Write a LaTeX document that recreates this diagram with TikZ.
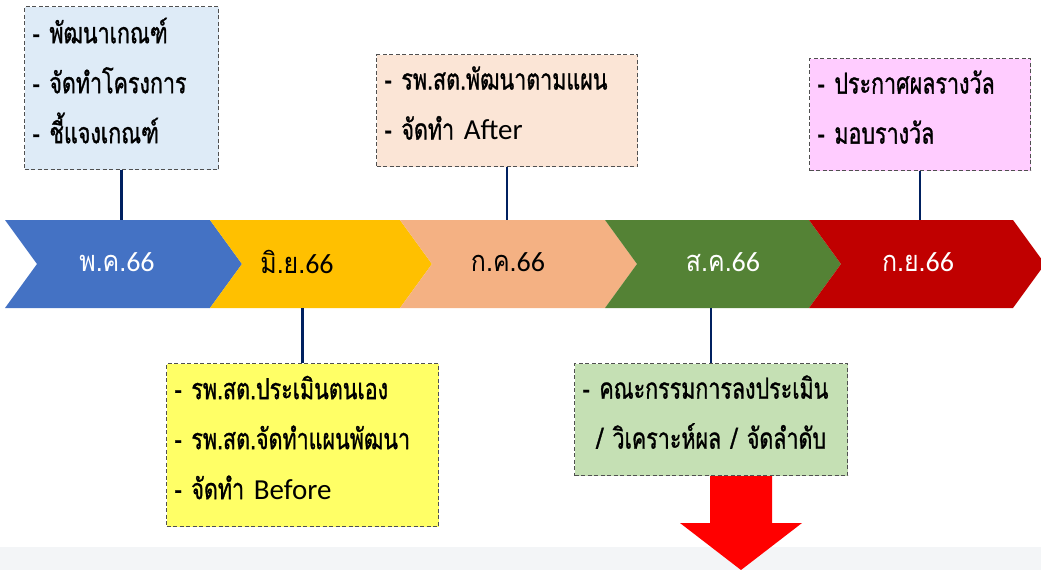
\documentclass[tikz,border=0pt]{standalone}
\usepackage{fontspec}
\newfontfamily\thai[Script=Thai, FakeStretch=0.74, FakeBold=1]{Loma}
\newfontfamily\thaim[Script=Thai, FakeStretch=0.86]{Loma}
\newfontfamily\lat{Carlito}
\definecolor{mblue}{HTML}{4472C4}
\definecolor{myellow}{HTML}{FFC000}
\definecolor{mpeach}{HTML}{F4B183}
\definecolor{mgreen}{HTML}{548235}
\definecolor{mred}{HTML}{C00000}
\definecolor{nblue}{HTML}{DEEBF7}
\definecolor{npeach}{HTML}{FBE5D6}
\definecolor{npink}{HTML}{FFCCFF}
\definecolor{nyellow}{HTML}{FFFF66}
\definecolor{ngreen}{HTML}{C5E0B4}
\definecolor{notegray}{HTML}{505050}
\definecolor{linkblue}{HTML}{002060}
\definecolor{bandgray}{HTML}{F3F5F7}
\tikzset{
	note/.style={draw=notegray, dash pattern=on 4pt off 2.5pt, line width=1.2pt, anchor=north west, align=left,
		inner xsep=8pt, inner ysep=0pt, font=\thai\fontsize{29}{50}\selectfont, text=black,
		execute at end node={\par\vspace*{15pt}}},
	link/.style={draw=linkblue, line width=2.5pt},
	month/.style={font=\thaim\fontsize{29}{36}\selectfont}
}
\begin{document}
\begin{tikzpicture}[x=1pt,y=-1pt]
\useasboundingbox (0,0) rectangle (1041,570);
\fill[bandgray] (0,547) rectangle (1041,570);
\coordinate (top) at (0,220);
\coordinate (bot) at (0,308);

\foreach \l/\r/\c/\t/\m/\s [count=\i] in {5/210/mblue/white/117/พ.ค., 210/400/myellow/black/297/มิ.ย., 400/605/mpeach/black/508/ก.ค., 605/809/mgreen/white/723/ส.ค., 809/1013/mred/white/918/ก.ย.}
{
	\fill[\c] (\l,220) -- (\r,220) -- (\r+32,264) -- (\r,308) -- (\l,308) -- (\l+32,264) -- cycle;
	\path (\m,262) node[month, text=\t] (m\i) {\s{\lat\fontsize{28}{36}\selectfont 66}};
}

\node[note, fill=nblue, minimum width=194pt, minimum height=163pt, text width=178pt] (b1) at (24,6) {- พัฒนาเกณฑ์\\- จัดทำโครงการ\\- ชี้แจงเกณฑ์};
\node[note, fill=npeach, minimum width=261pt, minimum height=112pt, text width=245pt] (b2) at (376,54) {- รพ.สต.พัฒนาตามแผน\\- จัดทำ {\lat After}};
\node[note, fill=npink, minimum width=221pt, minimum height=112pt, text width=205pt] (b3) at (809,58) {- ประกาศผลรางวัล\\- มอบรางวัล};
\node[note, fill=nyellow, minimum width=272pt, minimum height=163pt, text width=256pt] (b4) at (166,363) {- รพ.สต.ประเมินตนเอง\\- รพ.สต.จัดทำแผนพัฒนา\\- จัดทำ {\lat Before}};
\node[note, fill=ngreen, minimum width=273pt, minimum height=112pt, text width=257pt] (b5) at (574,363) {- คณะกรรมการลงประเมิน\\\hspace*{14pt}/ วิเคราะห์ผล / จัดลำดับ};

\draw[link] (b1.south) -- (b1.south |- top);
\draw[link] (b2.south) -- (b2.south |- top);
\draw[link] (b3.south) -- (b3.south |- top);
\draw[link] (b4.north) -- (b4.north |- bot);
\draw[link] (b5.north) -- (b5.north |- bot);

% arrow down
\fill[red] (710,476) -- (772,476) -- (772,523) -- (802,523) -- (741,570) -- (680,523) -- (710,523) -- cycle;

\end{tikzpicture}
\end{document}
